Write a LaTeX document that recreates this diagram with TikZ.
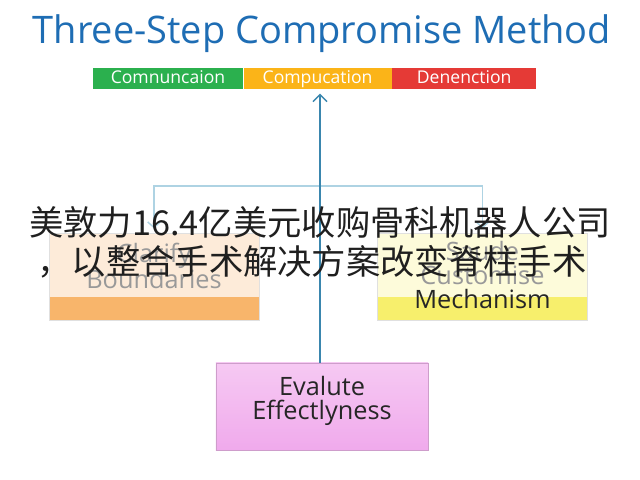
\documentclass[tikz,border=0pt]{standalone}
\usepackage{fontspec}
\setmainfont{Open Sans}
\newfontfamily\cjk{Noto Sans CJK SC}
\usetikzlibrary{arrows.meta,positioning,shadows}
\definecolor{TitleBlue}{HTML}{1E6DB4}
\definecolor{SegGreen}{HTML}{2BB04E}
\definecolor{SegOrange}{HTML}{FBB418}
\definecolor{SegRed}{HTML}{E53A36}
\definecolor{ArrowBlue}{HTML}{3A86AE}
\definecolor{LineBlue}{HTML}{AED3E3}
\definecolor{Peach}{HTML}{FDEBD9}
\definecolor{Apricot}{HTML}{F8B56B}
\definecolor{Cream}{HTML}{FDFBDA}
\definecolor{Lemon}{HTML}{F7EF6C}
\definecolor{PinkTop}{HTML}{F6C9F3}
\definecolor{PinkBot}{HTML}{F0AAEC}

\begin{document}
\begin{tikzpicture}[x=0.025cm,y=-0.025cm,>=Latex,
  barseg/.style={minimum height=0.525cm,inner sep=0pt,text=white,text height=9pt,text depth=2.5pt,
    font=\fontsize{12.5}{14}\selectfont},
  stepbox/.style 2 args={minimum width=5.25cm,minimum height=2.175cm,inner sep=0pt,
    fill=#1,draw=black!12,drop shadow={opacity=0.2,shadow xshift=0.6pt,shadow yshift=-1pt},
    path picture={\fill[#2] ([yshift=0.575cm]path picture bounding box.south west)
      rectangle (path picture bounding box.south east);}},
  boxtext/.style={align=center,font=\fontsize{18}{17}\selectfont,text=black!40},
  mainarrow/.style={draw=ArrowBlue,line width=1.1pt,-{Straight Barb[length=5pt,width=10pt]}},
  branch/.style={draw=LineBlue,line width=1pt,-{Straight Barb[length=4pt,width=9pt]}}]
  \fill[white] (0,0) rectangle (640,480);
  \useasboundingbox (0,0) rectangle (640,480);

  \node[text=TitleBlue,font=\fontsize{27}{32}\selectfont] (title) at (322,34) {Three-Step Compromise Method};

  \node[barseg,fill=SegGreen,minimum width=3.75cm] (commun) at (168,78.5) {Comnuncaion};
  \node[barseg,fill=SegOrange,minimum width=3.7cm,right=0pt of commun] (compu) {Compucation};
  \node[barseg,fill=SegRed,minimum width=3.6cm,right=0pt of compu] (denen) {Denenction};

  \node[stepbox={Peach}{Apricot}] (clarify) at (154,276.5) {};
  \node[boxtext] (clarifytext) at (154,266) {Clarify\\Boundaries};
  \node[stepbox={Cream}{Lemon}] (saude) at (482.5,276.5) {};
  \node[boxtext] (saudetext) at (482.5,275) {Saude\\Customise\\\textcolor{black!85}{Mechanism}};
  \node[minimum width=5.3cm,minimum height=2.175cm,inner sep=0pt,draw=PinkBot!70!gray,
    top color=PinkTop,bottom color=PinkBot,drop shadow={opacity=0.2,shadow xshift=0.6pt,shadow yshift=-1pt}] (eval) at (322,406.5) {};
  \node[boxtext,text=black!85] (evaltext) at (322,401) {Evalute\\Effectlyness};

  \coordinate (split) at (320,186);
  \draw[branch] (split) -| ([yshift=3pt]clarify.north);
  \draw[branch] (split) -| ([yshift=3pt]saude.north);
  \draw[mainarrow] (eval.north -| split) -- ([yshift=-3pt]compu.south -| split);

  \node[text=black!88,font=\cjk\fontsize{24.4}{28}\selectfont] (headline1) at (320,222) {美敦力16.4亿美元收购骨科机器人公司};
  \node[text=black!88,font=\cjk\fontsize{24.4}{28}\selectfont] (headline2) at (312,262) {，以整合手术解决方案改变脊柱手术};
\end{tikzpicture}
\end{document}
